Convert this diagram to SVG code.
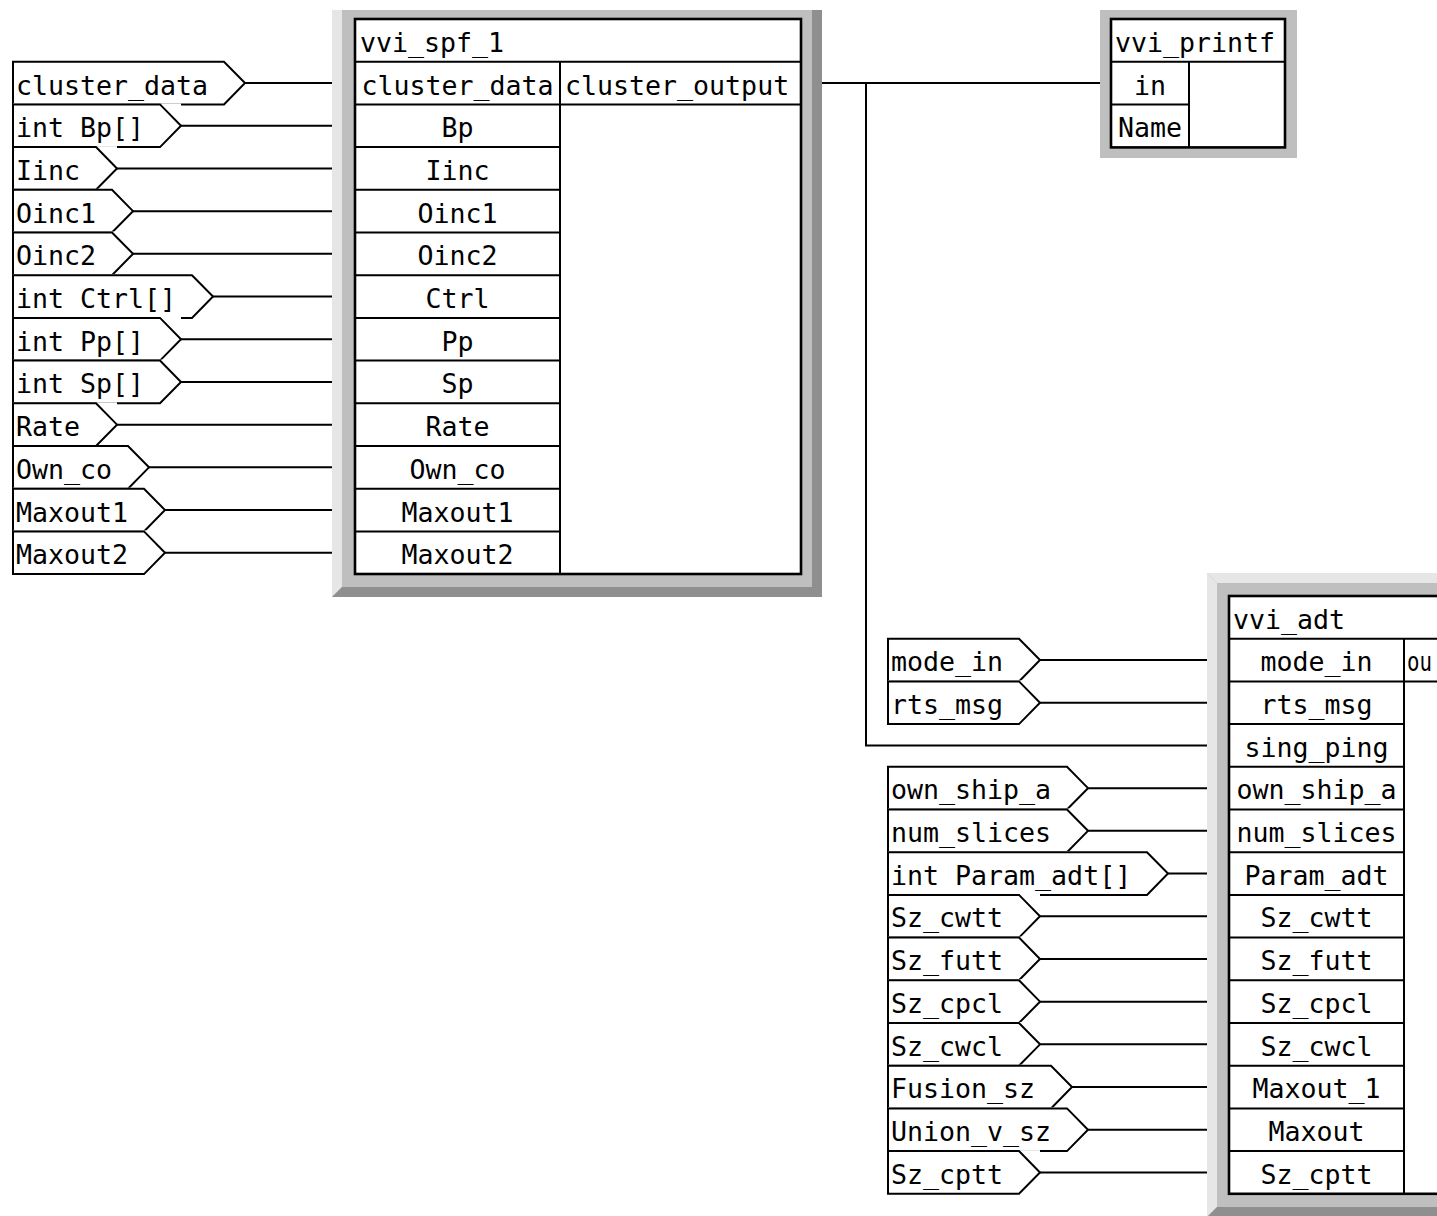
<svg xmlns="http://www.w3.org/2000/svg" width="1437" height="1216" viewBox="0 0 1437 1216">
<style>
.t{font-family:"DejaVu Sans Mono","Liberation Mono",monospace;font-size:26.6px;fill:#000}
.c{text-anchor:middle}
.tbl{fill:#fff;stroke:#000;stroke-width:2.6}
.ln{stroke:#000;stroke-width:2;fill:none}
.pf{fill:#fff;stroke:none}
.po{fill:none;stroke:#000;stroke-width:2;stroke-linejoin:miter}
.gray{fill:#bfbfbf}
.light{fill:#e6e6e6}
.dark{fill:#8f8f8f}
</style>
<rect width="1437" height="1216" fill="#fff"/>

<!-- vvi_spf_1 -->
<g id="vvi_spf_1">
<rect class="gray" x="332" y="10" width="490" height="587"/>
<polygon class="light" points="332,10 342,10 342,587 332,597"/>
<rect class="dark" x="812" y="10" width="10" height="587"/>
<polygon class="dark" points="332,597 342,587 822,587 822,597"/>
<rect class="tbl" x="355" y="19" width="446" height="555"/>
<path class="ln" d="M355 61.7H801M560 61.7V574M560 104.4H801M355 104.4H560M355 147.1H560M355 189.8H560M355 232.5H560M355 275.2H560M355 317.9H560M355 360.6H560M355 403.3H560M355 446H560M355 488.7H560M355 531.4H560"/>
<text class="t" x="360" y="51.5">vvi_spf_1</text>
<text class="t c" x="457.5" y="94.5">cluster_data</text>
<text class="t" x="565" y="94.5">cluster_output</text>
<text class="t c" x="457.5" y="137.2">Bp</text>
<text class="t c" x="457.5" y="179.9">Iinc</text>
<text class="t c" x="457.5" y="222.6">Oinc1</text>
<text class="t c" x="457.5" y="265.3">Oinc2</text>
<text class="t c" x="457.5" y="308">Ctrl</text>
<text class="t c" x="457.5" y="350.7">Pp</text>
<text class="t c" x="457.5" y="393.4">Sp</text>
<text class="t c" x="457.5" y="436.1">Rate</text>
<text class="t c" x="457.5" y="478.8">Own_co</text>
<text class="t c" x="457.5" y="521.5">Maxout1</text>
<text class="t c" x="457.5" y="564.2">Maxout2</text>
</g>

<!-- vvi_printf -->
<g id="vvi_printf">
<rect class="gray" x="1100" y="10" width="197" height="148"/>
<rect class="tbl" x="1111" y="19" width="174" height="128.4"/>
<path class="ln" d="M1111 61.7H1285M1189 61.7V147.4M1111 104.4H1189"/>
<text class="t" x="1115" y="51.5">vvi_printf</text>
<text class="t c" x="1150" y="94.5">in</text>
<text class="t c" x="1150" y="137.2">Name</text>
</g>

<!-- vvi_adt -->
<g id="vvi_adt">
<rect class="gray" x="1207" y="573" width="300" height="644"/>
<polygon class="light" points="1207,573 1507,573 1507,583 1217,583"/>
<polygon class="light" points="1207,573 1217,583 1217,1207 1207,1217"/>
<polygon class="dark" points="1207,1217 1217,1207 1507,1207 1507,1217"/>
<rect class="tbl" x="1229" y="596" width="400" height="597.8"/>
<path class="ln" d="M1229 638.7H1629M1404 638.7V1193.8M1404 681.4H1629M1229 681.4H1404M1229 724.1H1404M1229 766.8H1404M1229 809.5H1404M1229 852.2H1404M1229 894.9H1404M1229 937.6H1404M1229 980.3H1404M1229 1023H1404M1229 1065.7H1404M1229 1108.4H1404M1229 1151.1H1404"/>
<text class="t" x="1233" y="628.5">vvi_adt</text>
<text class="t" x="1407" y="671.2" textLength="25" lengthAdjust="spacingAndGlyphs">ou</text>
<text class="t c" x="1316.5" y="671.2">mode_in</text>
<text class="t c" x="1316.5" y="713.9">rts_msg</text>
<text class="t c" x="1316.5" y="756.6">sing_ping</text>
<text class="t c" x="1316.5" y="799.3">own_ship_a</text>
<text class="t c" x="1316.5" y="842">num_slices</text>
<text class="t c" x="1316.5" y="884.7">Param_adt</text>
<text class="t c" x="1316.5" y="927.4">Sz_cwtt</text>
<text class="t c" x="1316.5" y="970.1">Sz_futt</text>
<text class="t c" x="1316.5" y="1012.8">Sz_cpcl</text>
<text class="t c" x="1316.5" y="1055.5">Sz_cwcl</text>
<text class="t c" x="1316.5" y="1098.2">Maxout_1</text>
<text class="t c" x="1316.5" y="1140.9">Maxout</text>
<text class="t c" x="1316.5" y="1183.6">Sz_cptt</text>
</g>

<!-- left input ports -->
<g id="in_cluster_data"><rect class="pf" x="13" y="60.7" width="232" height="43.7"/><polygon class="po" points="13,61.7 224,61.7 245,83.05 224,104.4 13,104.4"/><text class="t" x="16" y="94.5">cluster_data</text></g>
<g id="in_Bp"><rect class="pf" x="13" y="103.4" width="168" height="43.7"/><polygon class="po" points="13,104.4 160,104.4 181,125.75 160,147.1 13,147.1"/><text class="t" x="16" y="137.2">int Bp[]</text></g>
<g id="in_Iinc"><rect class="pf" x="13" y="146.1" width="104" height="43.7"/><polygon class="po" points="13,147.1 96,147.1 117,168.45 96,189.8 13,189.8"/><text class="t" x="16" y="179.9">Iinc</text></g>
<g id="in_Oinc1"><rect class="pf" x="13" y="188.8" width="120" height="43.7"/><polygon class="po" points="13,189.8 112,189.8 133,211.15 112,232.5 13,232.5"/><text class="t" x="16" y="222.6">Oinc1</text></g>
<g id="in_Oinc2"><rect class="pf" x="13" y="231.5" width="120" height="43.7"/><polygon class="po" points="13,232.5 112,232.5 133,253.85 112,275.2 13,275.2"/><text class="t" x="16" y="265.3">Oinc2</text></g>
<g id="in_Ctrl"><rect class="pf" x="13" y="274.2" width="200" height="43.7"/><polygon class="po" points="13,275.2 192,275.2 213,296.55 192,317.9 13,317.9"/><text class="t" x="16" y="308">int Ctrl[]</text></g>
<g id="in_Pp"><rect class="pf" x="13" y="316.9" width="168" height="43.7"/><polygon class="po" points="13,317.9 160,317.9 181,339.25 160,360.6 13,360.6"/><text class="t" x="16" y="350.7">int Pp[]</text></g>
<g id="in_Sp"><rect class="pf" x="13" y="359.6" width="168" height="43.7"/><polygon class="po" points="13,360.6 160,360.6 181,381.95 160,403.3 13,403.3"/><text class="t" x="16" y="393.4">int Sp[]</text></g>
<g id="in_Rate"><rect class="pf" x="13" y="402.3" width="104" height="43.7"/><polygon class="po" points="13,403.3 96,403.3 117,424.65 96,446 13,446"/><text class="t" x="16" y="436.1">Rate</text></g>
<g id="in_Own_co"><rect class="pf" x="13" y="445" width="136" height="43.7"/><polygon class="po" points="13,446 128,446 149,467.35 128,488.7 13,488.7"/><text class="t" x="16" y="478.8">Own_co</text></g>
<g id="in_Maxout1"><rect class="pf" x="13" y="487.7" width="152" height="43.7"/><polygon class="po" points="13,488.7 144,488.7 165,510.05 144,531.4 13,531.4"/><text class="t" x="16" y="521.5">Maxout1</text></g>
<g id="in_Maxout2"><rect class="pf" x="13" y="530.4" width="152" height="43.7"/><polygon class="po" points="13,531.4 144,531.4 165,552.75 144,574.1 13,574.1"/><text class="t" x="16" y="564.2">Maxout2</text></g>

<!-- right input ports -->
<g id="in_mode_in"><rect class="pf" x="888" y="637.7" width="152" height="43.7"/><polygon class="po" points="888,638.7 1019,638.7 1040,660.05 1019,681.4 888,681.4"/><text class="t" x="891" y="671.2">mode_in</text></g>
<g id="in_rts_msg"><rect class="pf" x="888" y="680.4" width="152" height="43.7"/><polygon class="po" points="888,681.4 1019,681.4 1040,702.75 1019,724.1 888,724.1"/><text class="t" x="891" y="713.9">rts_msg</text></g>
<g id="in_own_ship_a"><rect class="pf" x="888" y="765.8" width="200" height="43.7"/><polygon class="po" points="888,766.8 1067,766.8 1088,788.15 1067,809.5 888,809.5"/><text class="t" x="891" y="799.3">own_ship_a</text></g>
<g id="in_num_slices"><rect class="pf" x="888" y="808.5" width="200" height="43.7"/><polygon class="po" points="888,809.5 1067,809.5 1088,830.85 1067,852.2 888,852.2"/><text class="t" x="891" y="842">num_slices</text></g>
<g id="in_Param_adt"><rect class="pf" x="888" y="851.2" width="280" height="43.7"/><polygon class="po" points="888,852.2 1147,852.2 1168,873.55 1147,894.9 888,894.9"/><text class="t" x="891" y="884.7">int Param_adt[]</text></g>
<g id="in_Sz_cwtt"><rect class="pf" x="888" y="893.9" width="152" height="43.7"/><polygon class="po" points="888,894.9 1019,894.9 1040,916.25 1019,937.6 888,937.6"/><text class="t" x="891" y="927.4">Sz_cwtt</text></g>
<g id="in_Sz_futt"><rect class="pf" x="888" y="936.6" width="152" height="43.7"/><polygon class="po" points="888,937.6 1019,937.6 1040,958.95 1019,980.3 888,980.3"/><text class="t" x="891" y="970.1">Sz_futt</text></g>
<g id="in_Sz_cpcl"><rect class="pf" x="888" y="979.3" width="152" height="43.7"/><polygon class="po" points="888,980.3 1019,980.3 1040,1001.65 1019,1023 888,1023"/><text class="t" x="891" y="1012.8">Sz_cpcl</text></g>
<g id="in_Sz_cwcl"><rect class="pf" x="888" y="1022" width="152" height="43.7"/><polygon class="po" points="888,1023 1019,1023 1040,1044.35 1019,1065.7 888,1065.7"/><text class="t" x="891" y="1055.5">Sz_cwcl</text></g>
<g id="in_Fusion_sz"><rect class="pf" x="888" y="1064.7" width="184" height="43.7"/><polygon class="po" points="888,1065.7 1051,1065.7 1072,1087.05 1051,1108.4 888,1108.4"/><text class="t" x="891" y="1098.2">Fusion_sz</text></g>
<g id="in_Union_v_sz"><rect class="pf" x="888" y="1107.4" width="200" height="43.7"/><polygon class="po" points="888,1108.4 1067,1108.4 1088,1129.75 1067,1151.1 888,1151.1"/><text class="t" x="891" y="1140.9">Union_v_sz</text></g>
<g id="in_Sz_cptt"><rect class="pf" x="888" y="1150.1" width="152" height="43.7"/><polygon class="po" points="888,1151.1 1019,1151.1 1040,1172.45 1019,1193.8 888,1193.8"/><text class="t" x="891" y="1183.6">Sz_cptt</text></g>

<!-- connectors -->
<g id="connectors" class="ln">
<path d="M245 83.05H332M181 125.75H332M117 168.45H332M133 211.15H332M133 253.85H332M213 296.55H332M181 339.25H332M181 381.95H332M117 424.65H332M149 467.35H332M165 510.05H332M165 552.75H332"/>
<path d="M822 83.05H1100M866 83.05V745.45H1207"/>
<path d="M1040 660.05H1207M1040 702.75H1207M1088 788.15H1207M1088 830.85H1207M1168 873.55H1207M1040 916.25H1207M1040 958.95H1207M1040 1001.65H1207M1040 1044.35H1207M1072 1087.05H1207M1088 1129.75H1207M1040 1172.45H1207"/>
</g>
</svg>
